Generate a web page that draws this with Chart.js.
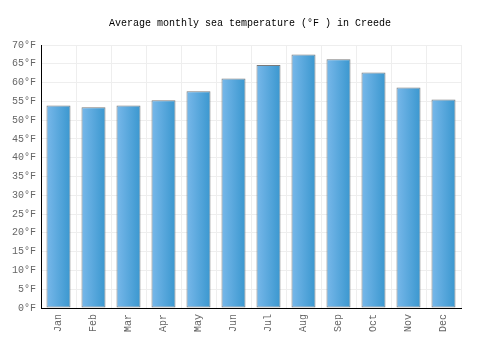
<!DOCTYPE html>
<html>
<head>
<meta charset="utf-8">
<script src="https://cdn.jsdelivr.net/npm/chart.js@4/dist/chart.umd.min.js"></script>
<style>
  html, body { margin: 0; padding: 0; background: #fff; }
  #wrap { width: 500px; height: 350px; position: relative; }
</style>
</head>
<body>
<div id="wrap"><canvas id="c" width="500" height="350"></canvas></div>
<script>
const months = ["Jan","Feb","Mar","Apr","May","Jun","Jul","Aug","Sep","Oct","Nov","Dec"];
const seaTempF = [53.9, 53.4, 53.9, 55.3, 57.7, 61.1, 64.7, 67.5, 66.2, 62.7, 58.7, 55.5];
const yTicks = [0,5,10,15,20,25,30,35,40,45,50,55,60,65,70];
const titleText = "Average monthly sea temperature (°F ) in Creede";

const FONT = "'Liberation Mono', 'DejaVu Sans Mono', monospace";
const BAR_FRACTION = 0.686;

function barGradient(ctx) {
  const chart = ctx.chart;
  const xs = chart.scales && chart.scales.x;
  if (!chart.chartArea || !xs || ctx.dataIndex === undefined) return '#55a6dd';
  const cx = xs.getPixelForValue(ctx.dataIndex);
  const w = (xs.width / months.length) * BAR_FRACTION;
  const g = chart.ctx.createLinearGradient(cx - w / 2, 0, cx + w / 2, 0);
  g.addColorStop(0, '#78b8ea');
  g.addColorStop(1, '#3a97cf');
  return g;
}

new Chart(document.getElementById('c'), {
  type: 'bar',
  data: {
    labels: months,
    datasets: [{
      data: seaTempF,
      backgroundColor: barGradient,
      borderColor: '#7a7a7a',
      borderWidth: 1,
      borderSkipped: false,
      categoryPercentage: BAR_FRACTION,
      barPercentage: 1.0
    }]
  },
  options: {
    responsive: false,
    animation: false,
    devicePixelRatio: 1,
    layout: { padding: 0 },
    plugins: {
      legend: { display: false },
      tooltip: { enabled: false },
      title: {
        display: true,
        text: titleText,
        color: '#000',
        font: { family: FONT, size: 10, weight: 'normal' },
        padding: { top: 17, bottom: 16 }
      }
    },
    scales: {
      x: {
        grid: { color: '#eeeeee', lineWidth: 1, drawTicks: false, offset: true },
        border: { color: '#000', width: 1 },
        ticks: {
          color: '#666',
          font: { family: FONT, size: 10 },
          minRotation: 90, maxRotation: 90,
          padding: 6
        },
        afterFit: (s) => { s.height = 42; }
      },
      y: {
        min: 0, max: 70,
        afterBuildTicks: (s) => { s.ticks = yTicks.map(v => ({ value: v })); },
        grid: { color: '#eeeeee', lineWidth: 1, drawTicks: false },
        border: { color: '#000', width: 1 },
        ticks: {
          color: '#666',
          font: { family: FONT, size: 10 },
          padding: 5,
          callback: (v) => v + '°F'
        },
        afterFit: (s) => { s.width = 41; }
      },
      yRight: {
        position: 'right',
        min: 0, max: 70,
        grid: { display: false, drawOnChartArea: false },
        border: { display: false },
        ticks: { display: false },
        afterFit: (s) => { s.width = 39; }
      }
    }
  }
});
</script>
</body>
</html>
